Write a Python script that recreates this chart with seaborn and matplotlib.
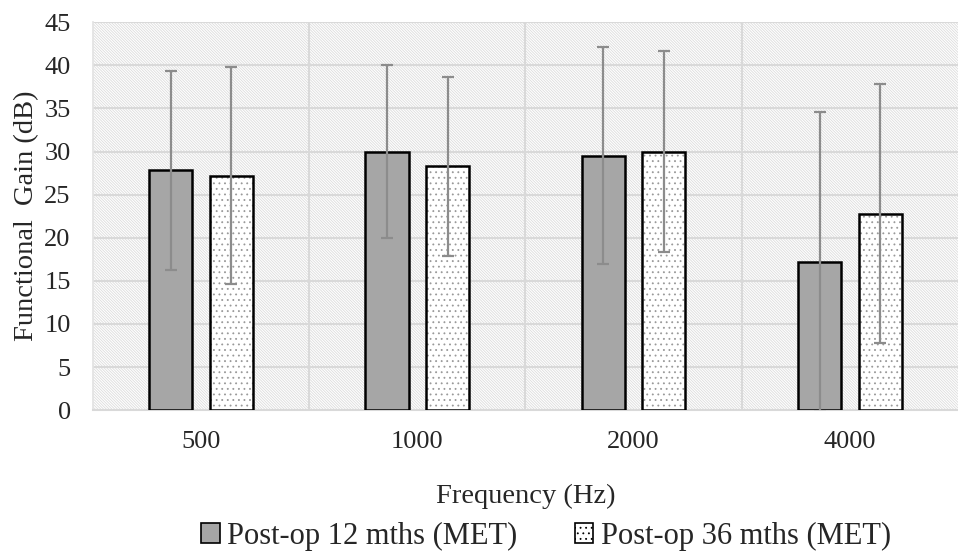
import matplotlib
matplotlib.use("Agg")
import matplotlib.pyplot as plt
from matplotlib.patches import Rectangle
import numpy as np
import pandas as pd
import seaborn as sns

FREQUENCIES = ["500", "1000", "2000", "4000"]
SERIES = ["Post-op 12 mths (MET)", "Post-op 36 mths (MET)"]
MEAN_12 = [27.8, 30.0, 29.5, 17.2]
SD_12 = [11.5, 10.0, 12.6, 17.4]
MEAN_36 = [27.2, 28.3, 30.0, 22.8]
SD_36 = [12.6, 10.4, 11.7, 15.0]
Y_TICKS = list(range(0, 50, 5))


def main() -> None:
    sns.set_theme(style="white")
    plt.rcParams["font.family"] = ["Liberation Serif", "DejaVu Serif"]
    plt.rcParams["hatch.linewidth"] = 0.6

    df = pd.DataFrame(
        {
            "Frequency": FREQUENCIES * 2,
            "Series": [SERIES[0]] * 4 + [SERIES[1]] * 4,
            "Gain": MEAN_12 + MEAN_36,
            "SD": SD_12 + SD_36,
        }
    )

    fig = plt.figure(figsize=(9.58, 5.55), dpi=100)
    ax = fig.add_axes([0.097, 0.261, 0.903, 0.699])

    # Hatched background of the plot area.
    bg = Rectangle((0, 0), 1, 1, transform=ax.transAxes, facecolor="white",
                   edgecolor="#DCDCDC", linewidth=0, hatch="\\" * 12, zorder=0)
    ax.add_patch(bg)

    sns.barplot(data=df, x="Frequency", y="Gain", hue="Series", order=FREQUENCIES,
                hue_order=SERIES, palette=["#A6A6A6", "white"], width=0.56, gap=0.286,
                errorbar=None, edgecolor="black", linewidth=1.8, legend=False, ax=ax,
                zorder=3)

    bars = ax.patches[1:]
    n = len(FREQUENCIES)
    bars_12, bars_36 = bars[:n], bars[n:]

    for p in bars_36:
        p.set_edgecolor("#999999")
        p.set_hatch("...")
        p.set_linewidth(0)
        outline = Rectangle(p.get_xy(), p.get_width(), p.get_height(), fill=False,
                            edgecolor="black", linewidth=1.8, zorder=4)
        ax.add_patch(outline)

    for group, means, sds in [(bars_12, MEAN_12, SD_12), (bars_36, MEAN_36, SD_36)]:
        xs = [p.get_x() + p.get_width() / 2 for p in group]
        ax.errorbar(xs, means, yerr=sds, fmt="none", ecolor="#8C8C8C", elinewidth=1.6,
                    capsize=4.3, capthick=1.6, zorder=5)

    ax.set_xlim(-0.5, len(FREQUENCIES) - 0.5)
    ax.set_ylim(0, 45)
    ax.set_yticks(Y_TICKS)
    ax.set_yticklabels([str(t) for t in Y_TICKS], fontsize=19)
    ax.tick_params(axis="x", labelsize=19, pad=15, length=0)
    ax.tick_params(axis="y", length=0, pad=16)

    for y in Y_TICKS[1:]:
        ax.axhline(y, color="#D9D9D9", linewidth=1.5, zorder=1)
    for x in np.arange(0.5, len(FREQUENCIES) - 0.5, 1.0):
        ax.axvline(x, color="#D9D9D9", linewidth=1.5, zorder=1)

    for spine in ax.spines.values():
        spine.set_visible(False)
    ax.spines["bottom"].set_visible(True)
    ax.spines["bottom"].set_color("#D9D9D9")
    ax.spines["bottom"].set_linewidth(1.5)
    ax.spines["left"].set_visible(True)
    ax.spines["left"].set_color("#E3E3E3")

    ax.set_xlabel("Frequency (Hz)", fontsize=20.5, labelpad=22)
    ax.set_ylabel("Functional  Gain (dB)", fontsize=20.5, labelpad=4)

    handles = [
        Rectangle((0, 0), 1, 1, facecolor="#A6A6A6", edgecolor="black", linewidth=1.2),
        Rectangle((0, 0), 1, 1, facecolor="white", edgecolor="black", linewidth=1.2,
                  hatch="..."),
    ]
    fig.legend(handles, SERIES, loc="center", bbox_to_anchor=(0.570, 0.034), ncol=2,
               frameon=False, fontsize=22, handlelength=0.6, handleheight=0.6,
               handletextpad=0.23, columnspacing=1.9, borderpad=0, borderaxespad=0)

    fig.savefig("out.png", dpi=100)
    plt.close(fig)


if __name__ == "__main__":
    main()
